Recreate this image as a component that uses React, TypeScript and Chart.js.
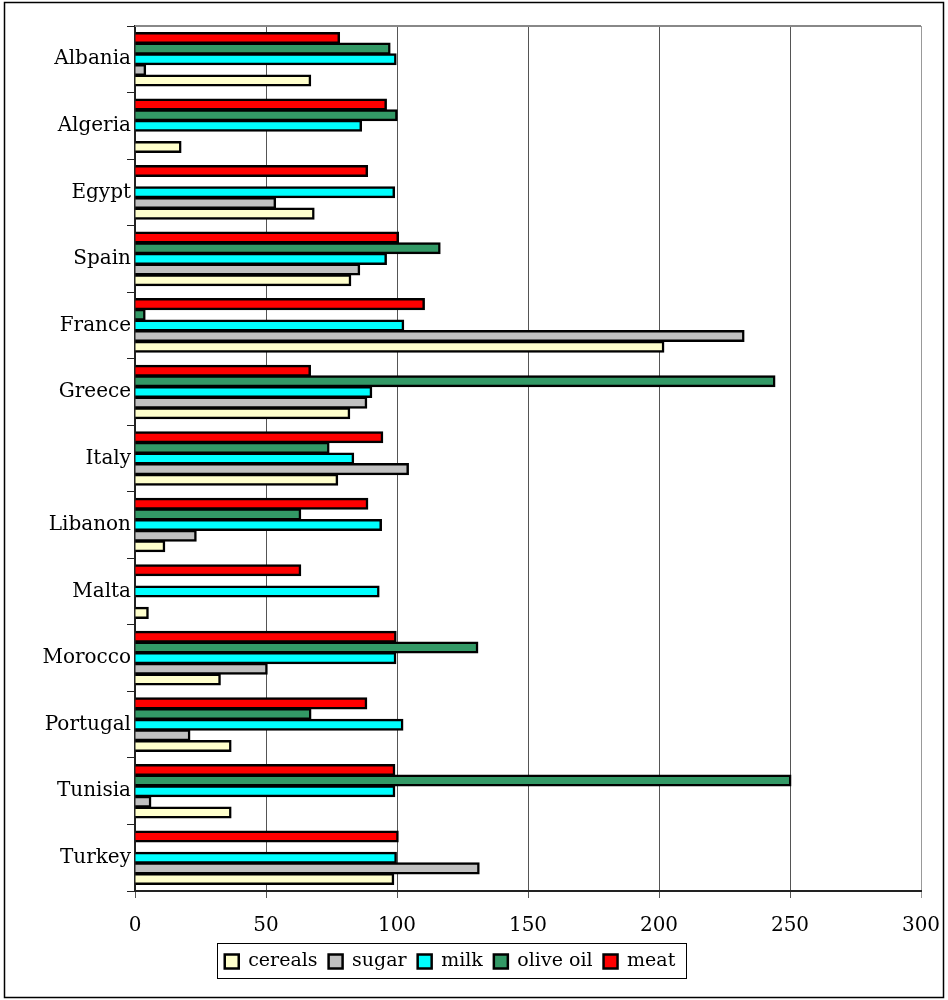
import { useEffect, useRef } from "react";
import { Chart, registerables } from "chart.js";

Chart.register(...registerables);

const categories = ["Albania", "Algeria", "Egypt", "Spain", "France", "Greece", "Italy", "Libanon", "Malta", "Morocco", "Portugal", "Tunisia", "Turkey"];
const cereals = [67, 17.5, 68.3, 82.3, 201.8, 81.9, 77.3, 11.3, 5, 32.5, 36.6, 36.6, 98.7];
const sugar = [4, null, 53.6, 85.7, 232.4, 88.4, 104.3, 23.3, null, 50.4, 20.9, 6, 131.3];
const milk = [99.6, 86.4, 99, 95.9, 102.5, 90.3, 83.4, 94, 93.1, 99.5, 102.2, 99.1, 99.7];
const oliveOil = [97.3, 100, null, 116.4, 3.8, 244.2, 74, 63.2, null, 130.8, 67.1, 250.3, null];
const meat = [78, 95.9, 88.7, 100.5, 110.4, 66.9, 94.5, 88.8, 63.2, 99.6, 88.4, 99.1, 100.4];
const xTicks = { min: 0, max: 300, step: 50 };

const FONT = "'DejaVu Serif', 'Liberation Serif', serif";

const framePlugin = {
  id: "frame",
  afterLayout(chart: any) {
    const lg = chart.legend;
    if (!lg) return;
    const half = (lg.right - lg.left) / 2;
    lg.left = 450 - half;
    lg.right = 450 + half;
    const h = lg.bottom - lg.top;
    lg.top = 941;
    lg.bottom = 941 + h;
  },
  beforeDraw(chart: any) {
    const ctx = chart.ctx;
    ctx.save();
    ctx.fillStyle = "#fff";
    ctx.fillRect(0, 0, chart.width, chart.height);
    ctx.strokeStyle = "#000";
    ctx.lineWidth = 1.5;
    ctx.strokeRect(4.5, 2.5, 939, 995);
    ctx.restore();
  },
  afterDraw(chart: any) {
    const ctx = chart.ctx;
    const { left, right, top } = chart.chartArea;
    ctx.save();
    ctx.strokeStyle = "#888";
    ctx.lineWidth = 2;
    ctx.beginPath();
    ctx.moveTo(left, top);
    ctx.lineTo(right, top);
    ctx.stroke();
    const lg = chart.legend;
    if (lg && lg.lineWidths) {
      const pad = lg.options.labels.padding;
      const cw = lg.lineWidths[0] - pad;
      const x0 = (lg.left + lg.right) / 2 - cw / 2 - 8;
      const x1 = (lg.left + lg.right) / 2 + cw / 2 + 10;
      ctx.strokeStyle = "#000";
      ctx.lineWidth = 1;
      ctx.strokeRect(Math.round(x0) + 0.5, 943.5, Math.round(x1 - x0), 35);
    }
    ctx.restore();
  },
};

export default function App() {
  const ref = useRef<HTMLCanvasElement>(null);
  useEffect(() => {
    document.body.style.margin = "0";
    const canvas = ref.current;
    if (!canvas) return;
    const common = { borderColor: "#000", borderWidth: 2.5, inflateAmount: 0.7, categoryPercentage: 0.8, barPercentage: 1.0 };
    const chart = new Chart(canvas, {
      type: "bar",
      data: {
        labels: categories,
        datasets: [
          { label: "meat", data: meat, backgroundColor: "#FF0000", ...common },
          { label: "olive oil", data: oliveOil, backgroundColor: "#339966", ...common },
          { label: "milk", data: milk, backgroundColor: "#00FFFF", ...common },
          { label: "sugar", data: sugar, backgroundColor: "#C0C0C0", ...common },
          { label: "cereals", data: cereals, backgroundColor: "#FFFFCC", ...common },
        ],
      },
      options: {
        indexAxis: "y",
        responsive: false,
        animation: false,
        layout: { padding: { top: 26, right: 27, bottom: 12, left: 0 } },
        plugins: {
          tooltip: { enabled: false },
          legend: {
            position: "bottom",
            reverse: true,
            labels: {
              color: "#000",
              font: { family: FONT, size: 19 },
              boxWidth: 14,
              boxHeight: 14,
              padding: 11,
            },
          },
        },
        scales: {
          x: {
            type: "linear",
            min: xTicks.min,
            max: xTicks.max,
            afterFit: (s: any) => { s.height = 57; s.paddingRight = 0; s.paddingLeft = 0; },
            ticks: { stepSize: xTicks.step, color: "#000", font: { family: FONT, size: 20 }, padding: 16, maxRotation: 0 },
            grid: {
              color: (c: any) => (c.tick && c.tick.value === xTicks.max ? "#999" : "#555"),
              lineWidth: 1,
              tickLength: 7,
            },
            border: { color: "#222", width: 2 },
          },
          y: {
            type: "category",
            afterFit: (s: any) => { s.width = 135; },
            ticks: { color: "#000", font: { family: FONT, size: 20 }, padding: -4 },
            grid: { drawOnChartArea: false, tickLength: 8, color: "#222", offset: true },
            border: { color: "#222", width: 2 },
          },
        },
      },
      plugins: [framePlugin],
    } as any);
    return () => chart.destroy();
  }, []);
  return <canvas ref={ref} width={948} height={1000} style={{ display: "block" }} />;
}
